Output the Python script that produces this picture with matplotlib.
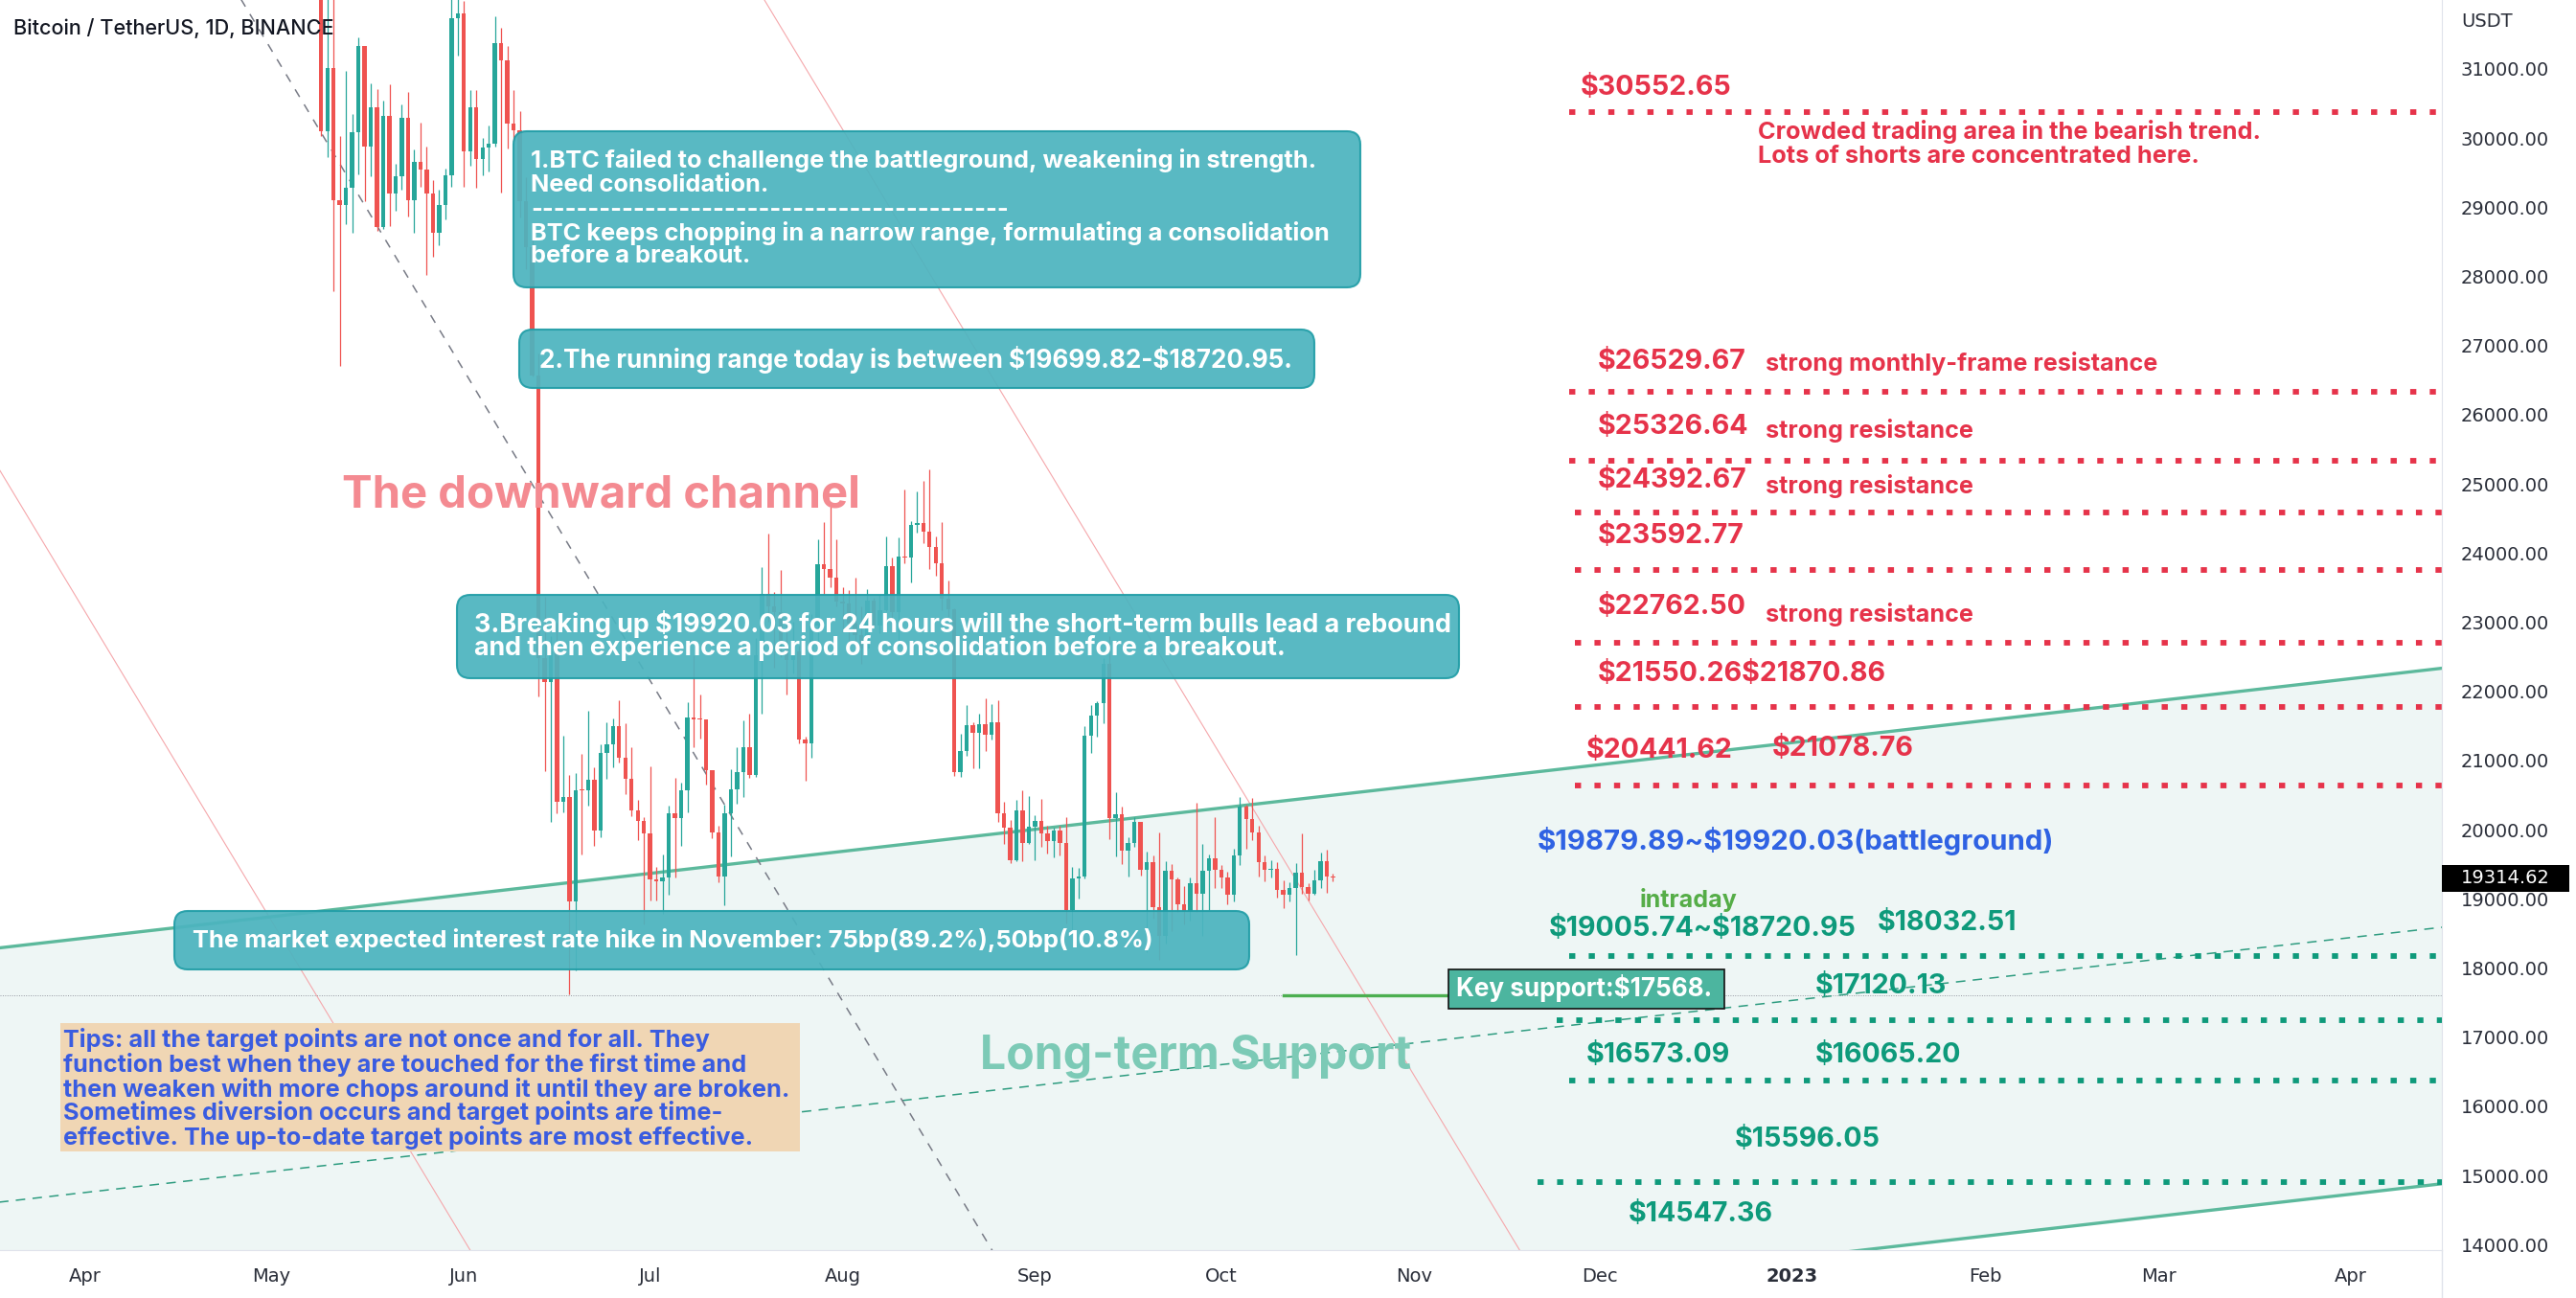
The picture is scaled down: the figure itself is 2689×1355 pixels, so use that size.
import numpy as np
import pandas as pd
import matplotlib
matplotlib.use("Agg")
import matplotlib.pyplot as plt
import matplotlib.dates as mdates
from matplotlib.patches import FancyBboxPatch, Rectangle
from matplotlib.transforms import IdentityTransform

# ---- daily candles BTC/USDT ----
dates = pd.date_range("2022-05-09", "2022-10-19", freq="D")
opens = [34060, 30099, 31017, 29103, 29030, 29287, 30086, 31328, 29874, 30444, 28715, 30319, 29201, 29445, 30293, 29099, 29655, 29542, 29201, 28629, 29031, 29468, 31734,
         31801, 29805, 30452, 29700, 29864, 29919, 31373, 31125, 30204, 30109, 29091, 28424, 26574, 22487, 22136, 22583, 20401, 20468, 18970, 20574, 20573, 20723, 19987, 21110, 21237, 21492, 21038, 20742, 20281, 20123,
         19942, 19279, 19252, 19315, 20236, 20175, 20564, 21624, 21594, 21591, 20862, 19963, 19328, 20234, 20588, 20830, 21195, 20785, 22525, 23410, 23223, 23152, 22684, 22451, 22579, 21310, 21254, 22952, 23842, 23773, 23643,
         23293, 23268, 22987, 22818, 22622, 23312, 22954, 23175, 23810, 23149, 23954, 23934, 24403, 24441, 24305, 24094, 23854, 23342, 23191, 20834, 21140, 21515, 21400, 21529, 21368, 21560, 20241, 20037, 19555, 20285, 19811,
         20050, 20127, 19952, 19832, 19986, 19812, 18837, 19290, 19319, 21361, 21648, 21826, 22395, 20173, 20226, 19701, 19803, 20113, 19416, 19537, 18875, 18461, 19401, 19289, 18920, 18807, 19222, 19079, 19412, 19591,
         19422, 19310, 19057, 19630, 20337, 20158, 19960, 19530, 19417, 19439, 19131, 19060, 19155, 19375, 19176, 19069, 19262, 19549, 19327]
highs = [34243, 32659, 32162, 30032, 30976, 30343, 31460, 31328, 30788, 30709, 30545, 30777, 29625, 30487, 30670, 29830, 30223, 29876, 29397, 29250, 29562, 32222, 32399,
         31982, 30690, 30700, 29999, 30189, 31765, 31589, 31327, 30700, 30392, 29440, 28544, 26882, 23362, 22800, 22995, 21365, 20792, 20815, 21090, 21723, 20900, 21233, 21558, 21614, 21868, 21539, 21197, 20432, 20179,
         20918, 19467, 19647, 20354, 20750, 20675, 21838, 22527, 21950, 21591, 20868, 20059, 20366, 20880, 21200, 21588, 21684, 22777, 23800, 24276, 23442, 23757, 22998, 23014, 22666, 21347, 23112, 24199, 24442, 24668, 24194,
         23509, 23466, 23647, 23223, 23472, 23354, 23400, 24245, 23933, 24226, 24918, 24456, 24888, 25047, 25211, 24247, 24446, 23600, 23203, 21382, 21800, 21548, 21684, 21900, 21819, 21867, 20402, 20147, 20433, 20575, 20490,
         20208, 20445, 20055, 20028, 20058, 20180, 19464, 19454, 21500, 21800, 21860, 22488, 22799, 20541, 20330, 19890, 20189, 20113, 19686, 19634, 19956, 19550, 19500, 19316, 19180, 19316, 20385, 19790, 19645, 20185,
         19484, 19395, 19719, 20475, 20365, 20456, 20060, 19628, 19558, 19527, 19268, 19238, 19513, 19951, 19227, 19424, 19676, 19706, 19360]
lows = [30033, 29731, 27785, 26700, 28751, 28630, 29480, 29087, 29450, 28654, 28693, 28730, 28947, 29255, 28866, 28627, 29294, 28019, 28282, 28450, 28830, 29300, 31200,
        29300, 29594, 29282, 29469, 29516, 29880, 29219, 29844, 29944, 28850, 28099, 26560, 21925, 20846, 20111, 20232, 20246, 17622, 17960, 19637, 20348, 19770, 19890, 20740, 20906, 20970, 20510, 20202, 19854, 18626,
        18975, 18977, 18781, 19055, 19304, 19761, 20251, 21189, 21322, 20655, 19875, 19240, 18910, 19616, 20383, 20478, 20755, 20762, 21683, 23010, 22341, 22500, 21950, 22257, 21250, 20706, 21042, 22582, 23414, 23500, 23227,
        22850, 22654, 22681, 22400, 22586, 22909, 22844, 23154, 22865, 22664, 23852, 23580, 24291, 24144, 23774, 23671, 23180, 23080, 20783, 20761, 21069, 20890, 20890, 21145, 21310, 20112, 19800, 19520, 19550, 19540, 19797,
        19565, 19754, 19652, 19597, 19633, 18650, 18540, 19011, 19297, 21112, 21350, 21538, 19860, 19617, 19497, 19320, 19748, 19335, 18232, 18711, 18125, 18356, 18531, 18805, 18629, 18680, 18816, 18471, 18843, 19155,
        19159, 18920, 18959, 19490, 19730, 19854, 19320, 19255, 19316, 19021, 18860, 18965, 18190, 19070, 18975, 19063, 19160, 19091, 19260]
closes = [30099, 31017, 29103, 29030, 29287, 30086, 31328, 29874, 30444, 28715, 30319, 29201, 29445, 30293, 29099, 29655, 29542, 29201, 28629, 29031, 29468, 31734, 31801,
          29805, 30452, 29700, 29864, 29919, 31373, 31125, 30204, 30109, 29091, 28424, 26574, 22487, 22136, 22583, 20401, 20468, 18970, 20574, 20573, 20723, 19987, 21110, 21237, 21492, 21038, 20742, 20281, 20123, 19942,
          19279, 19252, 19315, 20236, 20175, 20564, 21624, 21594, 21591, 20862, 19963, 19328, 20234, 20588, 20830, 21195, 20785, 22525, 23410, 23223, 23152, 22684, 22451, 22579, 21310, 21254, 22952, 23842, 23773, 23643, 23293,
          23268, 22987, 22818, 22622, 23312, 22954, 23175, 23810, 23149, 23954, 23934, 24403, 24441, 24305, 24094, 23854, 23342, 23191, 20834, 21140, 21515, 21400, 21529, 21368, 21560, 20241, 20037, 19555, 20285, 19811, 20050,
          20127, 19952, 19832, 19986, 19812, 18837, 19290, 19319, 21361, 21648, 21826, 22395, 20173, 20226, 19701, 19803, 20113, 19416, 19537, 18875, 18461, 19401, 19289, 18920, 18807, 19222, 19079, 19412, 19591, 19422,
          19310, 19057, 19630, 20337, 20158, 19960, 19530, 19417, 19439, 19131, 19060, 19155, 19375, 19176, 19069, 19262, 19549, 19327, 19314.62]
last_price = 19314.62

# ---- drawings (dates, prices) ----
channel_dates = ["2022-03-18", "2023-04-16"]
channel_top = [18290, 22339]
channel_bottom = [10836, 14885]
support_dash = [14614, 18593]
pink1_dates, pink1 = ["2022-07-01", "2022-12-01"], [34732, 12000]
pink2_dates, pink2 = ["2022-03-01", "2022-07-01"], [27761, 9606]
gray_dates, gray = ["2022-04-15", "2022-09-15"], [33665, 10794]

resist_levels = [30377, 26339, 25335, 24587, 23756, 22704, 21776, 20633]
resist_start = ["2022-11-26"] * 3 + ["2022-11-27"] * 5
support_levels = [18175, 17247, 16374, 14906]
support_start = ["2022-11-26", "2022-11-24", "2022-11-26", "2022-11-21"]
key_support = 17600
key_dates = ["2022-10-11", "2022-11-07"]

yticks = np.arange(14000, 32000, 1000)
month_starts = pd.date_range("2022-04-01", "2023-04-01", freq="MS")
month_labels = ["Apr", "May", "Jun", "Jul", "Aug", "Sep", "Oct", "Nov", "Dec", "2023", "Feb", "Mar", "Apr"]

GREEN, RED = "#26a69a", "#ef5350"
RED_T, GREEN_T, BLUE_T = "#e6334a", "#0e9a7b", "#2f62e3"
BOX, BOX_EDGE = "#4cb4bf", "#229ea7"
SANS = ["Inter", "DejaVu Sans"]

W, H = 2689, 1355
fig = plt.figure(figsize=(W / 100, H / 100), dpi=100)
ax = fig.add_axes([0, 50 / H, 2549 / W, 1305 / H])
pix = IdentityTransform()

t0 = mdates.date2num(pd.Timestamp("2022-04-01"))
xmin, xmax = t0 - 89 / 6.48, t0 + 2460 / 6.48
num = lambda ds: mdates.date2num(pd.to_datetime(ds))

# channel + trend lines
cx = num(channel_dates)
ax.fill_between(cx, channel_bottom, channel_top, color="#eef6f5", lw=0, zorder=0)
ax.plot(cx, channel_top, color="#5cb99c", lw=2.4, zorder=2)
ax.plot(cx, channel_bottom, color="#5cb99c", lw=2.4, zorder=2)
ax.plot(cx, support_dash, color="#2e9c80", lw=1.1, ls=(0, (6.5, 5)), zorder=2)
ax.plot(num(pink1_dates), pink1, color="#f5a7ab", lw=0.8, zorder=1)
ax.plot(num(pink2_dates), pink2, color="#f5a7ab", lw=0.8, zorder=1)
ax.plot(num(gray_dates), gray, color="#787b86", lw=1.1, ls=(0, (6, 6)), zorder=2)
ax.axhline(key_support, color="#9598a1", lw=0.7, ls=(0, (1, 1.5)), zorder=1)
ax.plot(num(key_dates), [key_support] * 2, color="#4caf50", lw=2.4, zorder=4)

# candles
x = mdates.date2num(dates)
o, h, l, c = map(np.array, (opens, highs, lows, closes))
col = np.where(c >= o, GREEN, RED)
ax.vlines(x, l, h, colors=col, lw=0.9, zorder=3)
ax.bar(x, np.maximum(np.abs(c - o), 14), bottom=np.minimum(o, c), width=0.68, color=col, lw=0, zorder=3)

# level lines
for p, d in zip(resist_levels, resist_start):
    ax.plot([num(d), xmax], [p, p], color=RED_T, lw=4.2, ls=(0, (1.1, 2.4)), zorder=4)
for p, d in zip(support_levels, support_start):
    ax.plot([num(d), xmax], [p, p], color=GREEN_T, lw=4.2, ls=(0, (1.1, 2.4)), zorder=4)

ax.set_xlim(xmin, xmax)
ax.set_ylim(13922, 31997)
ax.yaxis.tick_right()
ax.set_yticks(yticks)
ax.set_yticklabels([f"{v:.2f}" for v in yticks])
ax.tick_params(axis="y", length=0, pad=14, labelsize=14, labelcolor="#2a2e39")
ax.set_xticks(mdates.date2num(month_starts))
ax.set_xticklabels(month_labels)
ax.tick_params(axis="x", length=0, pad=13, labelsize=14, labelcolor="#2a2e39")
ax.get_xticklabels()[9].set_fontweight("bold")
for s in ("top", "left"):
    ax.spines[s].set_visible(False)
for s in ("right", "bottom"):
    ax.spines[s].set_color("#e0e3eb")


def put(x, y, s, size, color, weight="bold", family=SANS, z=8):
    return ax.text(x, H - y, s, transform=pix, fontsize=size, color=color, fontweight=weight,
                   family=family, va="center", ha="left", zorder=z, clip_on=False, parse_math=False)


def box(x0, y0, x1, y1, fc, ec, lw=1.5, r=14, alpha=0.93):
    ax.add_patch(FancyBboxPatch((x0, H - y1), x1 - x0, y1 - y0, boxstyle=f"round,pad=0,rounding_size={r}",
                                fc=fc, ec=ec, lw=lw, alpha=alpha, transform=pix, zorder=6, clip_on=False))


fits = []

title = put(14, 29, "Bitcoin / TetherUS, 1D, BINANCE", 13, "#131722", weight="medium")
fits.append((title, 335, [title]))

box(536, 137, 1420, 300, BOX, BOX_EDGE)
b1 = [put(554, y, s, 15, "white", weight="bold") for y, s in zip(
    [167, 193, 219, 244, 268],
    ["1.BTC failed to challenge the battleground, weakening in strength.", "Need consolidation.",
     "-" * 42, "BTC keeps chopping in a narrow range, formulating a consolidation", "before a breakout."])]
fits.append((b1[0], 818, b1))

box(542, 344, 1372, 405, BOX, BOX_EDGE)
b2 = put(563, 375, "2.The running range today is between $19699.82-$18720.95.", 15, "white", weight="bold")
fits.append((b2, 787, [b2]))

box(477, 621, 1523, 708, BOX, BOX_EDGE)
b3 = [put(495, 652, "3.Breaking up $19920.03 for 24 hours will the short-term bulls lead a rebound", 15, "white", weight="bold"),
      put(495, 677, "and then experience a period of consolidation before a breakout.", 15, "white", weight="bold")]
fits.append((b3[0], 1021, b3))

box(182, 951, 1304, 1012, BOX, BOX_EDGE)
b4 = put(201, 982, "The market expected interest rate hike in November: 75bp(89.2%),50bp(10.8%)", 15, "white", weight="bold")
fits.append((b4, 1003, [b4]))

ax.add_patch(Rectangle((63, H - 1202), 772, 134, fc="#f0d6b4", ec="none", transform=pix, zorder=6, clip_on=False))
tips = [put(66, y, s, 15, "#3a5ce0", weight="bold") for y, s in zip(
    [1086, 1111, 1137, 1162, 1187],
    ["Tips: all the target points are not once and for all. They",
     "function best when they are touched for the first time and",
     "then weaken with more chops around it until they are broken.",
     "Sometimes diversion occurs and target points are time-",
     "effective. The up-to-date target points are most effective."])]
fits.append((tips[2], 755, tips))

dc = put(357, 517, "The downward channel", 34, "#f48a91", z=5)
fits.append((dc, 541, [dc]))
lt = put(1023, 1103, "Long-term Support", 34, "#7ccab6", z=5)
fits.append((lt, 451, [lt]))

# price level labels
dollar = []
for xx, yy, s, cl in [(1650, 91, "$30552.65", RED_T), (1668, 377, "$26529.67", RED_T), (1668, 446, "$25326.64", RED_T),
                      (1668, 502, "$24392.67", RED_T), (1668, 560, "$23592.77", RED_T), (1668, 633, "$22762.50", RED_T),
                      (1668, 704, "$21550.26$21870.86", RED_T), (1656, 784, "$20441.62", RED_T), (1850, 782, "$21078.76", RED_T),
                      (1617, 970, "$19005.74~$18720.95", GREEN_T), (1960, 964, "$18032.51", GREEN_T),
                      (1895, 1030, "$17120.13", GREEN_T), (1656, 1102, "$16573.09", GREEN_T), (1895, 1102, "$16065.20", GREEN_T),
                      (1811, 1189, "$15596.05", GREEN_T), (1700, 1268, "$14547.36", GREEN_T)]:
    dollar.append(put(xx, yy, s, 19, cl))
fits.append((dollar[0], 158, dollar))

crowd = [put(1835, 137, "Crowded trading area in the bearish trend.", 15, RED_T, weight="bold"),
         put(1835, 163, "Lots of shorts are concentrated here.", 15, RED_T, weight="bold")]
fits.append((crowd[0], 524, crowd))
strong = [put(1843, 379, "strong monthly-frame resistance", 15, RED_T, weight="bold")]
for yy in (450, 508, 642):
    strong.append(put(1843, yy, "strong resistance", 15, RED_T, weight="bold"))
fits.append((strong[0], 408, strong))

bg = put(1605, 878, "$19879.89~$19920.03(battleground)", 19, BLUE_T)
fits.append((bg, 539, [bg]))
intra = put(1712, 939, "intraday", 16, "#55ad47", weight="bold")
fits.append((intra, 102, [intra]))

box(1512, 1012, 1800, 1053, "#4cb59f", "#111111", lw=1.2, r=0, alpha=1)
ks = put(1520, 1032, "Key support:$17568.", 17, "white", weight="bold")
fits.append((ks, 268, [ks]))

# right-axis extras
fig.text(2569 / W, 1 - 22 / H, "USDT", fontsize=14, color="#2a2e39", va="center", ha="left")
fig.add_artist(Rectangle((2549, H - 931), 133, 28, fc="black", ec="none", transform=pix, zorder=5))
fig.text(2569 / W, 1 - 917 / H, f"{last_price:.2f}", fontsize=14, color="white", va="center", ha="left", zorder=6)
fig.add_artist(plt.Line2D([2549, 2549], [0, 50], transform=pix, color="#e0e3eb", lw=1))

fig.canvas.draw()
rend = fig.canvas.get_renderer()
for ref, width, group in fits:
    k = width / ref.get_window_extent(rend).width
    for t in group:
        t.set_fontsize(t.get_fontsize() * k)

fig.savefig("out.png", dpi=100, facecolor="white")
